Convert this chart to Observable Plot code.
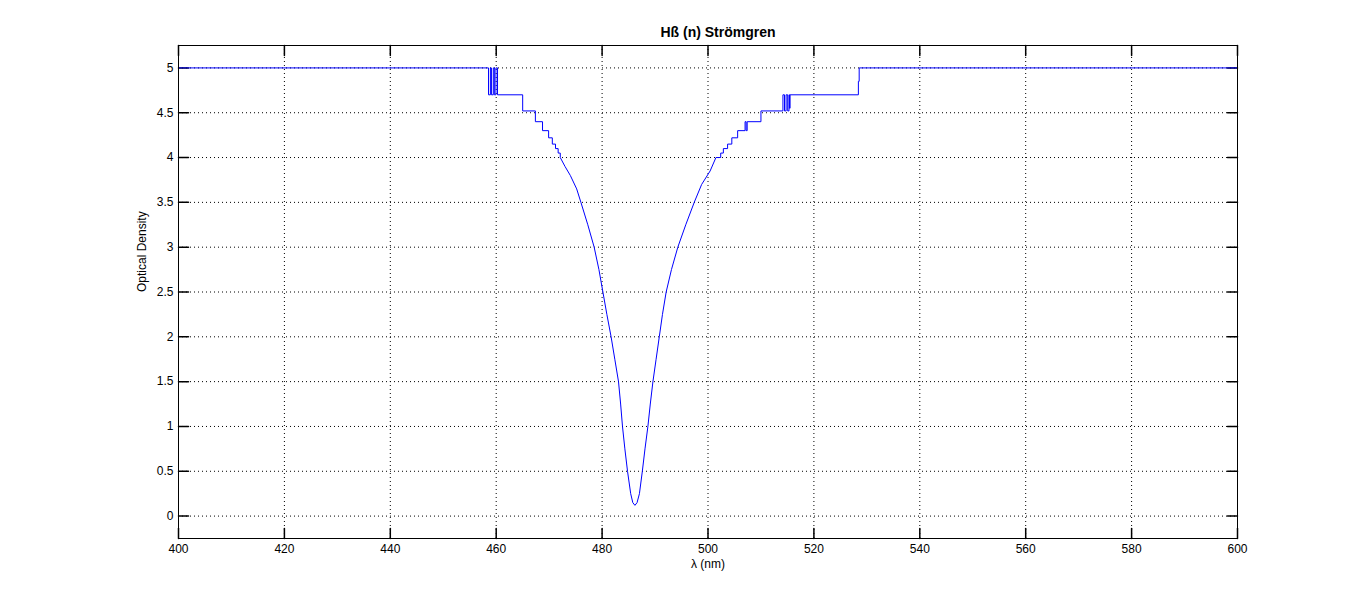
<!DOCTYPE html>
<html>
<head>
<meta charset="utf-8">
<script src="https://cdn.jsdelivr.net/npm/d3@7"></script>
<script src="https://cdn.jsdelivr.net/npm/@observablehq/plot@0.6"></script>
<style>
  html, body { margin: 0; padding: 0; background: white; }
  #chart { width: 1367px; height: 605px; }
</style>
</head>
<body>
<div id="chart"></div>
<script>
const title = "Hß (n) Strömgren";
const xLabel = "λ (nm)";
const yLabel = "Optical Density";
const xTicks = [400, 420, 440, 460, 480, 500, 520, 540, 560, 580, 600];
const yTicks = [0, 0.5, 1, 1.5, 2, 2.5, 3, 3.5, 4, 4.5, 5];

const wavelength = [
  400, 458.55, 458.55, 458.9, 458.9, 459.1, 459.1, 459.45, 459.45, 459.65,
  459.65, 459.95, 459.95, 460.25, 460.25, 465.0, 465.0, 467.4, 467.4, 468.75,
  468.75, 469.9, 469.9, 470.6, 470.6, 471.2, 471.2, 471.7, 471.7, 472.1,
  472.1, 473.0, 474.0, 475.2, 476.0, 477.3, 478.5, 479.4, 480.15, 480.9,
  481.7, 482.4, 483.1, 483.5, 483.85, 484.3, 484.8, 485.4, 485.8, 486.2,
  486.6, 487.05, 487.6, 488.1, 488.65, 489.1, 489.6, 490.2, 490.8, 491.4,
  492.1, 493.1, 494.3, 495.8, 497.4, 498.8, 500.4, 501.5, 502.4, 502.4,
  502.9, 502.9, 503.7, 503.7, 504.5, 504.5, 505.6, 505.6, 507.0, 507.0,
  507.2, 507.2, 507.4, 507.4, 510.0, 510.0, 514.15, 514.15, 514.45, 514.45,
  514.75, 514.75, 515.05, 515.05, 515.3, 515.3, 515.4, 515.4, 515.5, 515.5,
  528.4, 528.4, 528.55, 528.55, 600
];
const density = [
  5, 5, 4.7, 4.7, 5, 5, 4.7, 4.7, 5, 5,
  4.7, 4.7, 5, 5, 4.7, 4.7, 4.52, 4.52, 4.4, 4.4,
  4.3, 4.3, 4.22, 4.22, 4.15, 4.15, 4.1, 4.1, 4.05, 4.05,
  4.0, 3.9, 3.8, 3.65, 3.5, 3.25, 3.0, 2.75, 2.5, 2.25,
  2.0, 1.75, 1.5, 1.25, 1.0, 0.75, 0.5, 0.25, 0.15, 0.12,
  0.15, 0.25, 0.5, 0.75, 1.0, 1.25, 1.5, 1.75, 2.0, 2.25,
  2.5, 2.75, 3.0, 3.25, 3.5, 3.7, 3.85, 4.0, 4.0, 4.05,
  4.05, 4.1, 4.1, 4.15, 4.15, 4.22, 4.22, 4.3, 4.3, 4.4,
  4.4, 4.3, 4.3, 4.4, 4.4, 4.52, 4.52, 4.7, 4.7, 4.52,
  4.52, 4.7, 4.7, 4.52, 4.52, 4.7, 4.7, 4.55, 4.55, 4.7,
  4.7, 4.85, 4.85, 5, 5
];

const data = wavelength.map((w, i) => ({w, od: density[i]}));

const tickShape = {draw(context, l) { context.moveTo(0, 0); context.lineTo(0, -l); }};
const tickLen = 10;

const chart = Plot.plot({
  width: 1367,
  height: 605,
  marginLeft: 178,
  marginRight: 130,
  marginTop: 45,
  marginBottom: 67,
  style: {fontFamily: "'Liberation Sans', Arial, sans-serif", fontSize: "12px", background: "white", color: "black"},
  x: {domain: [400, 600]},
  y: {domain: [-0.25, 5.25]},
  marks: [
    Plot.gridX(xTicks, {stroke: "black", strokeOpacity: 1, strokeDasharray: "1,3"}),
    Plot.gridY(yTicks, {stroke: "black", strokeOpacity: 1, strokeDasharray: "1,3"}),
    Plot.vector(xTicks, {x: d => d, frameAnchor: "bottom", length: tickLen, rotate: 0, anchor: "start", shape: tickShape, stroke: "black"}),
    Plot.vector(xTicks, {x: d => d, frameAnchor: "top", length: tickLen, rotate: 180, anchor: "start", shape: tickShape, stroke: "black"}),
    Plot.vector(yTicks, {y: d => d, frameAnchor: "left", length: tickLen, rotate: 90, anchor: "start", shape: tickShape, stroke: "black"}),
    Plot.vector(yTicks, {y: d => d, frameAnchor: "right", length: tickLen, rotate: -90, anchor: "start", shape: tickShape, stroke: "black"}),
    Plot.axisX(xTicks, {tickSize: 0, tickPadding: 6, label: null, tickFormat: d => String(d)}),
    Plot.axisY(yTicks, {tickSize: 0, tickPadding: 5, label: null, tickFormat: d => String(d)}),
    Plot.line(data, {x: "w", y: "od", stroke: "#0000ff", strokeWidth: 1}),
    Plot.frame({stroke: "black"}),
    Plot.text([title], {frameAnchor: "top", dy: -18, dx: 10, fontWeight: "bold", fontSize: 14}),
    Plot.text([yLabel], {frameAnchor: "left", dx: -36, rotate: -90}),
    Plot.text([xLabel], {frameAnchor: "bottom", dy: 29})
  ]
});
document.getElementById("chart").appendChild(chart);
</script>
</body>
</html>
